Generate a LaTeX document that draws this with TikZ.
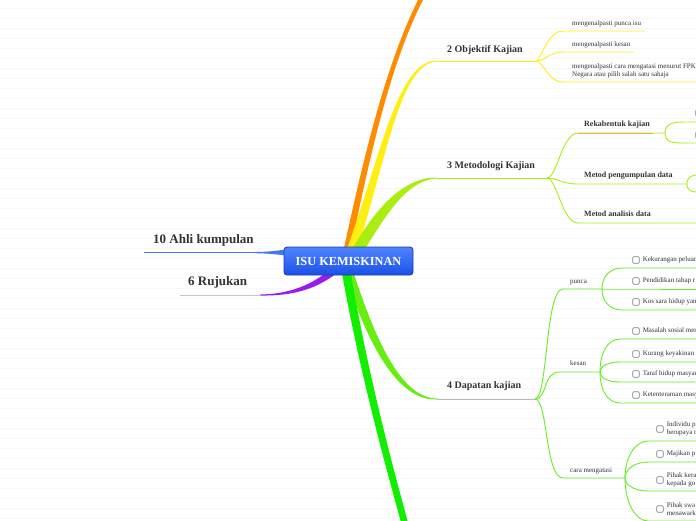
\documentclass[tikz,border=0pt]{standalone}
\usepackage{fontspec}
\setmainfont{Liberation Serif}
\usetikzlibrary{positioning, calc}

\definecolor{orangeb}{HTML}{FF8C00}
\definecolor{yellowb}{HTML}{FFEE11}
\definecolor{limeb}{HTML}{AAEE11}
\definecolor{greenb}{HTML}{66EE11}
\definecolor{greenc}{HTML}{66EE22}
\definecolor{brightb}{HTML}{11EE00}
\definecolor{purpleb}{HTML}{9A1AF0}
\definecolor{blueb}{HTML}{4477EE}
\definecolor{textc}{HTML}{333333}
\definecolor{roottop}{HTML}{4F86FF}
\definecolor{rootbot}{HTML}{1C4FE6}
\definecolor{rootedge}{HTML}{1A3CAA}
\definecolor{hilite}{HTML}{F5B041}

\begin{document}
\begin{tikzpicture}[x=1pt, y=-1pt,
  leaf/.style={anchor=west, inner sep=0pt, text=textc, font=\fontsize{7}{8.4}\selectfont, text height=5pt, text depth=1.6pt},
  leafii/.style={anchor=west, inner sep=0pt, text=textc, font=\fontsize{7}{8.4}\selectfont, align=left},
  topic/.style={anchor=west, inner sep=0pt, text=textc, font=\fontsize{10}{12}\selectfont\bfseries, text height=7pt, text depth=2.2pt},
  subtopic/.style={anchor=west, inner sep=0pt, text=textc, font=\fontsize{8}{10}\selectfont\bfseries, text height=5.6pt, text depth=1.8pt},
  sidetopic/.style={anchor=west, inner sep=0pt, text=textc, font=\fontsize{13}{15}\selectfont\bfseries, text height=9pt, text depth=2.9pt},
  tick/.style={draw=gray, fill=white, rounded corners=1pt, minimum size=6.5pt, inner sep=0pt, line width=0.6pt},
  link/.style={line width=0.9pt},
]
  \useasboundingbox (0,0) rectangle (696,520);
  \clip (0,0) rectangle (696,520);
  \fill[white] (0,0) rectangle (696,520);
  \foreach \y in {8,18,...,518}
    \draw[gray!6, line width=0.7pt] (0,\y) -- (696,\y);

  % main branches
  \fill[orangeb] (341,262) .. controls (365,150) and (387,60) .. (421,-6) -- (426,-6) .. controls (391,60) and (371,150) .. (348,262) -- cycle;
  \fill[yellowb] (342,262) .. controls (378,170) and (395,60) .. (437,60.5) -- (437,61.5) .. controls (398,63) and (385,170) .. (353,262) -- cycle;
  \fill[limeb] (345,262) .. controls (370,215) and (400,177) .. (437,177.5) -- (437,178.5) .. controls (404,180) and (382,222) .. (357,262) -- cycle;
  \fill[greenb] (350,262) .. controls (372,330) and (398,398) .. (437,398.5) -- (437,399.5) .. controls (394,401) and (364,335) .. (341,262) -- cycle;
  \fill[brightb] (340,262) .. controls (357,360) and (381,450) .. (402,526) -- (409,526) .. controls (388,450) and (365,360) .. (349,262) -- cycle;
  \fill[purpleb] (260,294.5) .. controls (290,294) and (312,285) .. (332,268) -- (343,268) .. controls (318,290) and (292,296) .. (260,295.5) -- cycle;
  \fill[blueb] (255,252) .. controls (270,252) and (280,250) .. (292,249) -- (292,256) .. controls (280,255) and (270,253.3) .. (255,253.2) -- cycle;

  % 2 Objektif Kajian
  \node[topic] (objektif) at (447,50) {2 Objektif Kajian};
  \coordinate (b2) at (437,61);
  \coordinate (j2) at (537,61);
  \draw[yellowb, link] (b2) -- (j2);
  \node[leaf] (pastipunca) at (572,23.5) {mengenalpasti punca isu};
  \node[leaf] (pastikesan) at (572,44.5) {mengenalpasti kesan};
  \node[leafii] (pasticara) at (572,71) {mengenalpasti cara mengatasi menurut FPK\\Negara atau pilih salah satu sahaja};
  \coordinate (o1) at (563,31);  \coordinate (o1e) at (645,31);
  \coordinate (o2) at (563,52);  \coordinate (o2e) at (634,52);
  \coordinate (o3) at (563,82);  \coordinate (o3e) at (700,82);
  \draw[yellowb, link] (j2) .. controls +(6,-8) and +(-14,0) .. (o1) -- (o1e);
  \draw[yellowb, link] (j2) .. controls +(8,0) and +(-14,0) .. (o2) -- (o2e);
  \draw[yellowb, link] (j2) .. controls +(8,4) and +(-14,0) .. (o3) -- (o3e);

  % 3 Metodologi Kajian
  \node[topic] (metodologi) at (447,166) {3 Metodologi Kajian};
  \coordinate (b3) at (437,178);
  \coordinate (j3) at (547,178);
  \draw[limeb, link] (b3) -- (j3);
  \node[subtopic] (rekabentuk) at (584,125) {Rekabentuk kajian};
  \node[subtopic] (pengumpulan) at (584,176) {Metod pengumpulan data};
  \node[subtopic] (analisis) at (584,215) {Metod analisis data};
  \coordinate (r1) at (578,133);  \coordinate (r1o) at (653,133);  \coordinate (r1j) at (665,133);
  \coordinate (p1) at (578,184);  \coordinate (p1j) at (687,184);
  \coordinate (n1) at (578,223);  \coordinate (n1e) at (700,223);
  \draw[limeb, link] (j3) .. controls +(10,0) and +(-16,0) .. (r1) -- (r1j);
  \draw[hilite, link] (r1) -- (r1o);
  \draw[limeb, link] (j3) .. controls +(10,0) and +(-16,0) .. (p1) -- (p1j);
  \draw[limeb, link] (j3) .. controls +(10,0) and +(-16,0) .. (n1) -- (n1e);
  \node[tick] (rk1) at (699,113) {};
  \node[tick] (rk2) at (699,135) {};
  \coordinate (r1a) at (686,122);  \coordinate (r1ae) at (700,122);
  \coordinate (r1b) at (686,143);  \coordinate (r1be) at (700,143);
  \draw[limeb, link] (r1j) .. controls +(0,-10) and +(-12,0) .. (r1a) -- (r1ae);
  \draw[limeb, link] (r1j) .. controls +(0,10) and +(-12,0) .. (r1b) -- (r1be);
  \coordinate (p1a) at (697,175);  \coordinate (p1ae) at (702,175);
  \coordinate (p1b) at (697,192);  \coordinate (p1be) at (702,192);
  \draw[limeb, link] (p1j) .. controls +(0,-7) and +(-5,0) .. (p1a) -- (p1ae);
  \draw[limeb, link] (p1j) .. controls +(0,7) and +(-5,0) .. (p1b) -- (p1be);

  % 4 Dapatan kajian
  \node[topic] (dapatan) at (447,386) {4 Dapatan kajian};
  \coordinate (b4) at (437,399);
  \coordinate (j4) at (535,399);
  \draw[gray!55, link] (b4) -- (j4);
  \node[leaf] (punca) at (570,281.5) {punca};
  \node[leaf] (kesan) at (570,364) {kesan};
  \node[leaf] (caraatasi) at (570,470.5) {cara mengatasi};
  \coordinate (pu) at (563,289);  \coordinate (puj) at (602,289);
  \coordinate (ke) at (560,372);  \coordinate (kej) at (600,372);
  \coordinate (ca) at (563,478);  \coordinate (caj) at (625,478);
  \draw[greenc, link] (j4) .. controls +(13,0) and +(-18,0) .. (pu) -- (puj);
  \draw[greenc, link] (j4) .. controls +(13,0) and +(-18,0) .. (ke) -- (kej);
  \draw[greenc, link] (j4) .. controls +(13,0) and +(-18,0) .. (ca) -- (caj);

  \foreach \yy/\txt [count=\i] in {268/Kekurangan peluan, 289/Pendidikan tahap r, 310/Kos sara hidup yan} {
    \pgfmathsetmacro\dy{0.6*(\yy-289)}
    \node[tick] (pt\i) at (636,\yy-8) {};
    \node[leaf, right=3pt of pt\i] (pk\i) {\txt};
    \coordinate (ps\i) at (622,\yy);
    \coordinate (pe\i) at (700,\yy);
    \draw[greenc, link] (puj) .. controls +(0,\dy) and +(-12,0) .. (ps\i) -- (pe\i);
  }
  \foreach \yy/\txt [count=\i] in {339/Masalah sosial men, 362/Kurang keyakinan d, 382/Taraf hidup masyar, 403/Ketenteraman masy} {
    \pgfmathsetmacro\dy{0.6*(\yy-372)}
    \node[tick] (kt\i) at (636,\yy-8) {};
    \node[leaf, right=3pt of kt\i] (kk\i) {\txt};
    \coordinate (ks\i) at (620,\yy);
    \coordinate (ke\i) at (700,\yy);
    \draw[greenc, link] (kej) .. controls +(0,\dy) and +(-12,0) .. (ks\i) -- (ke\i);
  }
  \foreach \yy/\cy/\txt [count=\i] in {441/429/Individu p\\berupaya m, 462/454/Majikan p, 491/480/Pihak kera\\kepada go, 521/509/Pihak swa\\menawark} {
    \pgfmathsetmacro\dy{0.6*(\yy-478)}
    \node[tick] (ct\i) at (660,\cy) {};
    \node[leafii, right=3pt of ct\i] (ck\i) {\txt};
    \coordinate (cs\i) at (648,\yy);
    \coordinate (ce\i) at (700,\yy);
    \draw[greenc, link] (caj) .. controls +(0,\dy) and +(-12,0) .. (cs\i) -- (ce\i);
  }

  % left side
  \node[sidetopic] (ahli) at (153,240) {10 Ahli kumpulan};
  \coordinate (u10) at (144,252.5);
  \coordinate (u10e) at (256,252.5);
  \draw[blueb, link] (u10) -- (u10e);
  \node[sidetopic] (rujukan) at (188,282) {6 Rujukan};
  \coordinate (u6) at (180,295);
  \coordinate (u6e) at (261,295);
  \draw[gray!45, link] (u6) -- (u6e);

  % central topic
  \node[draw=rootedge, line width=0.8pt, rounded corners=3pt, top color=roottop, bottom color=rootbot,
        minimum width=129pt, minimum height=28pt, inner sep=0pt, text=white,
        font=\fontsize{12.3}{14}\selectfont\bfseries] (root) at (348.5,261) {ISU KEMISKINAN};
\end{tikzpicture}
\end{document}
